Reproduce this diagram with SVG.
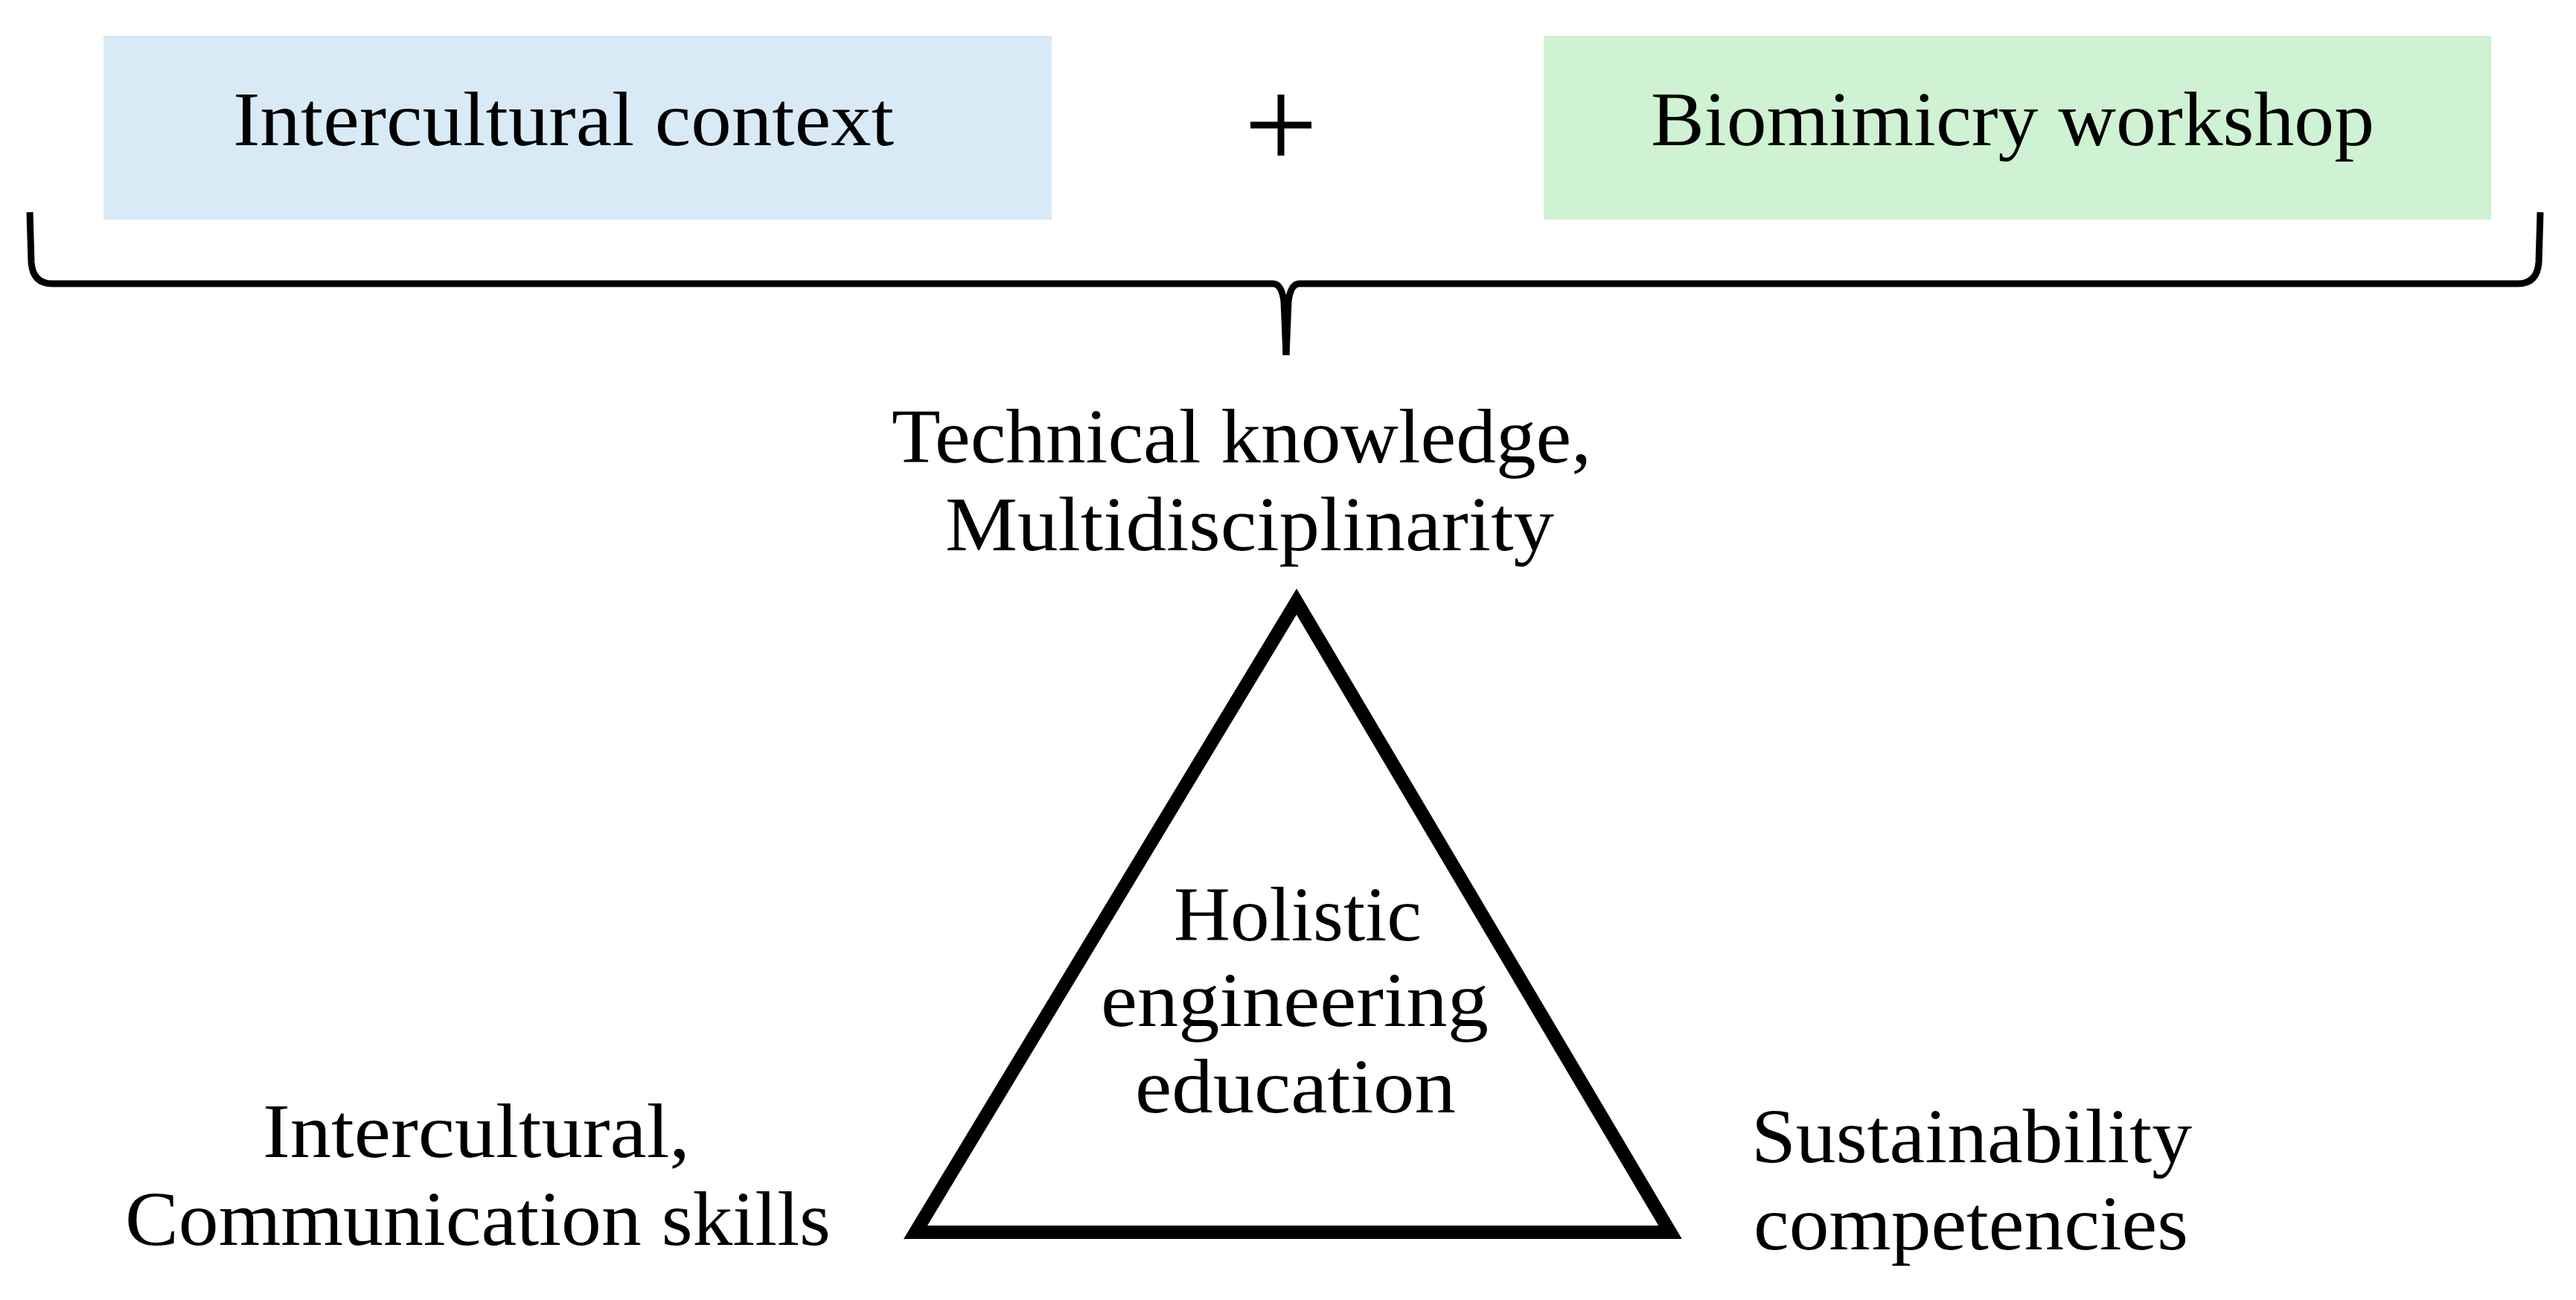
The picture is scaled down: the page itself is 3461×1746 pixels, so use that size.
<svg xmlns="http://www.w3.org/2000/svg" width="3461" height="1746" viewBox="0 0 3461 1746">
<style>
.t{font-family:"Liberation Serif","Times New Roman",serif;font-size:104px;fill:#000;}
.ln{fill:none;stroke:#000;}
</style>
<rect width="3461" height="1746" fill="#fff"/>
<g id="intercultural-context">
<rect x="139" y="48" width="1274" height="247" fill="#D9EAF7"/>
<text class="t" x="313" y="195" textLength="888" lengthAdjust="spacingAndGlyphs">Intercultural context</text>
</g>
<g id="plus">
<path class="ln" stroke-width="9" d="M1680 168 H1762 M1721 127 V209"/>
</g>
<g id="biomimicry-workshop">
<rect x="2074" y="48" width="1273" height="247" fill="#CFF2D2"/>
<text class="t" x="2218" y="195" textLength="972" lengthAdjust="spacingAndGlyphs">Biomimicry workshop</text>
</g>
<g id="connectors">
<path class="ln" stroke-width="9" stroke-linecap="butt" d="M40 285 L42 352 Q44 381 70 381 L1710 381 Q1722 381 1725 405 L1728 477"/>
<path class="ln" stroke-width="9" stroke-linecap="butt" d="M3413 285 L3411 352 Q3409 381 3383 381 L1746 381 Q1734 381 1731 405 L1728 477"/>
</g>
<g id="triangle">
<polygon class="ln" stroke-width="18" stroke-linejoin="miter" stroke-miterlimit="4" points="1742,808 2244,1655 1230,1655"/>
</g>
<g id="top-label">
<text class="t" x="1198" y="621" textLength="940" lengthAdjust="spacingAndGlyphs">Technical knowledge,</text>
<text class="t" x="1270" y="739" textLength="818" lengthAdjust="spacingAndGlyphs">Multidisciplinarity</text>
</g>
<g id="center-label">
<text class="t" x="1577" y="1263" textLength="333" lengthAdjust="spacingAndGlyphs">Holistic</text>
<text class="t" x="1479" y="1378" textLength="521" lengthAdjust="spacingAndGlyphs">engineering</text>
<text class="t" x="1525" y="1494" textLength="431" lengthAdjust="spacingAndGlyphs">education</text>
</g>
<g id="left-label">
<text class="t" x="353" y="1554" textLength="574" lengthAdjust="spacingAndGlyphs">Intercultural,</text>
<text class="t" x="168" y="1672" textLength="948" lengthAdjust="spacingAndGlyphs">Communication skills</text>
</g>
<g id="right-label">
<text class="t" x="2353" y="1561" textLength="592" lengthAdjust="spacingAndGlyphs">Sustainability</text>
<text class="t" x="2356" y="1678" textLength="584" lengthAdjust="spacingAndGlyphs">competencies</text>
</g>
</svg>
